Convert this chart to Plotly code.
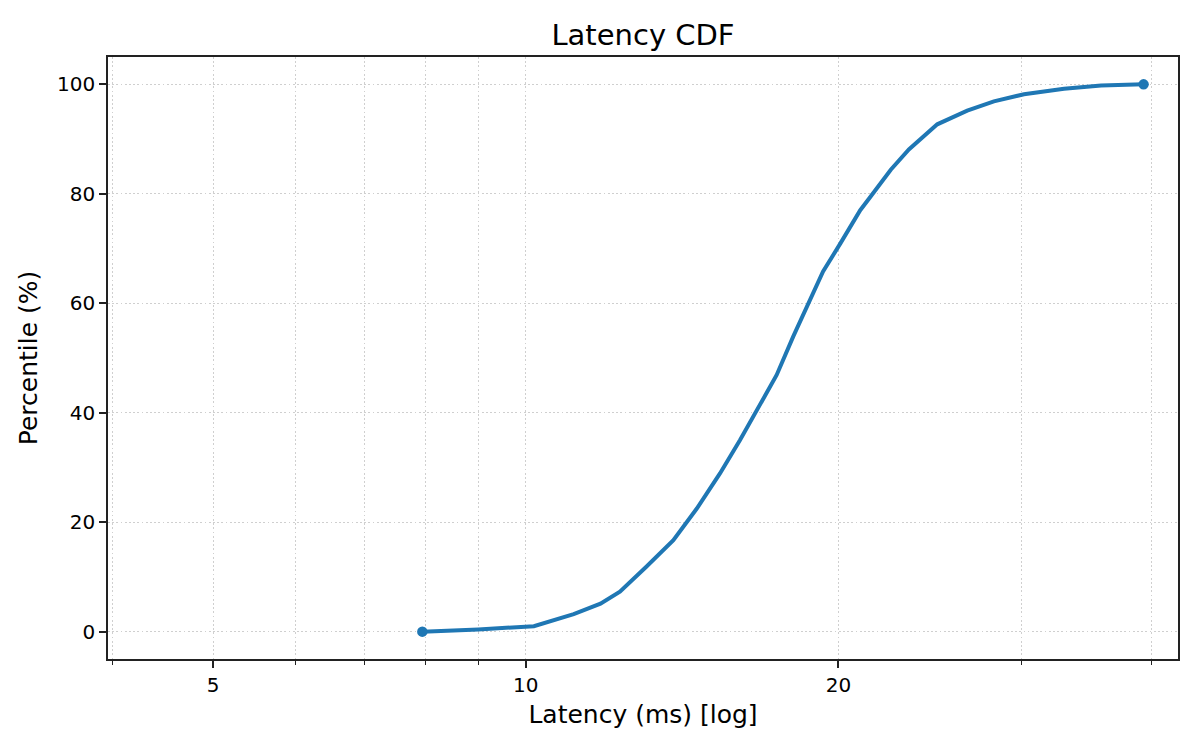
import plotly.graph_objects as go
import math

latency_ms = [7.95, 9.0, 10.18, 11.12, 11.8, 12.32, 13.07, 13.87, 14.61, 15.38, 16.08,
              16.69, 17.44, 18.09, 18.77, 19.33, 20.08, 20.99, 21.48, 22.46, 23.38,
              24.90, 26.61, 28.23, 30.18, 32.98, 35.80, 39.34]
percentile = [0.0, 0.4, 1.0, 3.2, 5.1, 7.3, 11.9, 16.7, 22.5, 28.9, 35.0,
              40.5, 46.9, 53.9, 60.6, 65.8, 70.9, 77.0, 79.5, 84.4, 88.1,
              92.7, 95.2, 96.9, 98.2, 99.2, 99.8, 100.0]

major_x = [5, 10, 20]
minor_x = [4, 6, 7, 8, 9, 30, 40]
y_ticks = [0, 20, 40, 60, 80, 100]

BLUE = "#1f77b4"
FONT = "DejaVu Sans"
SPINE = "#222222"
GRID = "#cfcfcf"

fig = go.Figure()
fig.add_trace(go.Scatter(x=latency_ms, y=percentile, mode="lines",
                         line=dict(color=BLUE, width=4), showlegend=False))
fig.add_trace(go.Scatter(x=[latency_ms[0], latency_ms[-1]], y=[percentile[0], percentile[-1]],
                         mode="markers", marker=dict(color=BLUE, size=10.5), showlegend=False))

xmin = 3.96
xmax = 42.46

fig.update_layout(
    width=1200, height=750,
    margin=dict(l=100, r=30, t=49, b=99),
    paper_bgcolor="white", plot_bgcolor="white",
    font=dict(family=FONT, color="black", size=20),
    title=dict(text="Latency CDF", x=0.5, xanchor="center", xref="paper",
               y=1 - 27/750, yanchor="middle", font=dict(size=29, family=FONT)),
    xaxis=dict(
        type="log", range=[math.log10(xmin), math.log10(xmax)],
        tickmode="array", tickvals=major_x, ticktext=[str(v) for v in major_x],
        ticks="outside", ticklen=7, tickwidth=1.7, tickcolor=SPINE,
        showline=True, linecolor=SPINE, linewidth=1.7, mirror=True,
        showgrid=True, gridcolor=GRID, griddash="1.7px,2.5px", gridwidth=1.4,
        zeroline=False,
        tickfont=dict(size=20),
        title=dict(text="Latency (ms) [log]", font=dict(size=25), standoff=10),
        minor=dict(tickmode="array", tickvals=minor_x, ticks="outside", ticklen=4,
                   tickwidth=1.25, tickcolor=SPINE, showgrid=True,
                   gridcolor=GRID, griddash="1.7px,2.5px", gridwidth=1.4),
    ),
    yaxis=dict(
        range=[-5, 105], tickmode="array", tickvals=y_ticks,
        ticks="outside", ticklen=7, tickwidth=1.7, tickcolor=SPINE,
        showline=True, linecolor=SPINE, linewidth=1.7, mirror=True,
        showgrid=True, gridcolor=GRID, griddash="1.7px,2.5px", gridwidth=1.4,
        zeroline=False,
        tickfont=dict(size=20),
        title=dict(text="Percentile (%)", font=dict(size=25), standoff=12),
    ),
)

fig.write_html("out.html")
